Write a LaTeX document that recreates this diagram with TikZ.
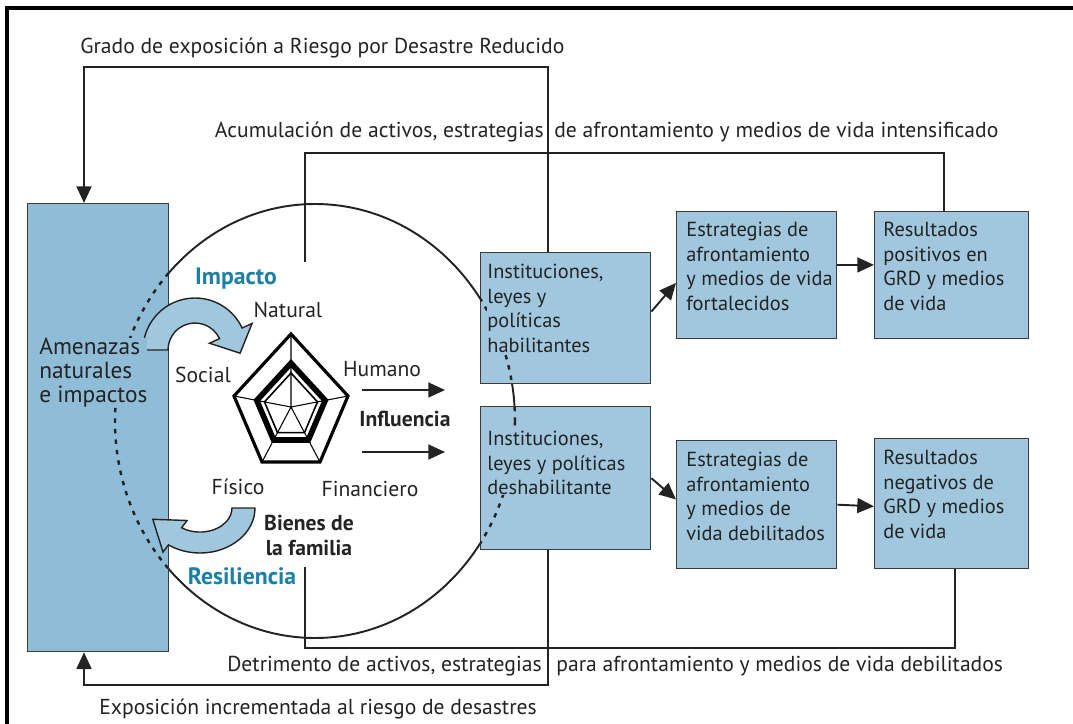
\documentclass[tikz,border=0pt]{standalone}
\usepackage{fontspec}
\setmainfont{PT Sans}
\usetikzlibrary{arrows.meta,calc}
\definecolor{boxfill}{RGB}{160,199,221}
\definecolor{leftfill}{RGB}{143,188,214}
\definecolor{boxline}{RGB}{60,60,60}
\definecolor{tealtxt}{RGB}{28,127,165}
\definecolor{ink}{RGB}{35,35,35}
\begin{document}
\begin{tikzpicture}[x=0.02cm,y=-0.02cm,
  every node/.style={font=\fontsize{12.3}{14}\selectfont, inner sep=0pt, text=ink},
  box/.style={draw=boxline, fill=boxfill, line width=0.8pt, anchor=north west, inner sep=0pt},
  txt/.style={anchor=north west, align=left, fill=boxfill, font=\fontsize{11.6}{14}\selectfont},
  lbl/.style={anchor=base},
  bold/.style={font=\fontsize{12.3}{14}\selectfont\bfseries},
  tbold/.style={font=\fontsize{13.5}{15}\selectfont\bfseries, text=tealtxt},
  conn/.style={line width=1.1pt, draw=ink},
  arr/.style={conn, -{Triangle[length=9.5pt,width=8.5pt]}},
  bendarrow/.style={draw=ink, fill=boxfill, line width=0.8pt, line join=miter},
  dashell/.style={draw=ink, line width=1.4pt, dash pattern=on 2.5pt off 3.5pt}]

\useasboundingbox (0,0) rectangle (1073,724);
\draw[line width=1.8pt] (7,724) -- (7,8) -- (1073,8);

% circle of assets
\draw[conn] (315,421) ellipse [x radius=200, y radius=217];

% boxes
\node[box, fill=leftfill, minimum width=2.82cm, minimum height=8.96cm] (A) at (27,203) {};
\node[box, minimum width=3.4cm, minimum height=2.62cm] (H) at (480,252) {};
\node[box, minimum width=3.4cm, minimum height=2.86cm] (D) at (480,406) {};
\node[box, minimum width=3.2cm, minimum height=2.54cm] (E1) at (676,211) {};
\node[box, minimum width=3.08cm, minimum height=2.54cm] (R1) at (874,211) {};
\node[box, minimum width=3.2cm, minimum height=2.56cm] (E2) at (676,440) {};
\node[box, minimum width=3.08cm, minimum height=2.6cm] (R2) at (874,438) {};

% dashed part of the circle inside boxes
\begin{scope}
\clip (A.north west) rectangle (A.south east)
      (H.north west) rectangle (H.south east)
      (D.north west) rectangle (D.south east);
\draw[dashell] (315,421) ellipse [x radius=200, y radius=217];
\end{scope}

% curved block arrows (Impacto, Resiliencia)
\draw[bendarrow] (143,350) arc[start angle=180, end angle=335, radius=52]
  -- (252.1,323.4) -- (240.1,353.2) -- (209.5,343.2) -- (219.5,338.6)
  arc[start angle=335, end angle=180, radius=27] -- cycle;
\draw[bendarrow] (255,508) arc[start angle=0, end angle=125, x radius=55, y radius=45]
  -- (163.0,552.1) -- (152.8,519.3) -- (187.1,520.5) -- (181.6,527.7)
  arc[start angle=125, end angle=0, x radius=32, y radius=24] -- cycle;

% pentagon of assets
\begin{scope}[shift={(291,407)}, line join=miter]
\draw[line width=0.6pt] (0,0) -- (0,-73) (0,0) -- (57,-11) (0,0) -- (29,55) (0,0) -- (-29,55) (0,0) -- (-57,-11);
\draw[line width=1.8pt] (0,-73) -- (57,-11) -- (29,55) -- (-29,55) -- (-57,-11) -- cycle;
\draw[line width=3.2pt] (0,-43.8) -- (34.2,-6.6) -- (17.4,33) -- (-17.4,33) -- (-34.2,-6.6) -- cycle;
\draw[line width=0.9pt] (0,-34) -- (26.5,-5.1) -- (13.5,25.6) -- (-13.5,25.6) -- (-26.5,-5.1) -- cycle;
\end{scope}

% box texts
\node[txt, fill=leftfill, font=\fontsize{13.3}{13.4}\selectfont] (At) at (39,338) {Amenazas\\naturales\\e impactos};
\node[txt] (Ht) at (487,264) {Instituciones,\\leyes y\\políticas\\habilitantes};
\node[txt] (Dt) at (487,431) {Instituciones,\\leyes y políticas\\deshabilitante};
\node[txt] (E1t) at (686,222) {Estrategias de\\afrontamiento\\y medios de vida\\fortalecidos};
\node[txt] (R1t) at (883,222) {Resultados\\positivos en\\GRD y medios\\de vida};
\node[txt] (E2t) at (686,452) {Estrategias de\\afrontamiento\\y medios de\\vida debilitados};
\node[txt] (R2t) at (883,450) {Resultados\\negativos de\\GRD y medios\\de vida};

% labels around the pentagon
\node[lbl] (nat) at (288,317) {Natural};
\node[lbl] (soc) at (203,382) {Social};
\node[lbl] (hum) at (382,376) {Humano};
\node[lbl] (fis) at (238,494) {Físico};
\node[lbl] (fin) at (370,496) {Financiero};
\node[lbl, bold] (inf) at (405,426) {Influencia};
\node[lbl, tbold] (imp) at (236,284) {Impacto};
\node[lbl, tbold] (res) at (242,584) {Resiliencia};
\node[anchor=north, align=center, bold] (bie) at (309,515) {Bienes de\\la familia};

% loop labels
\node[anchor=base west] (grado) at (80,53) {Grado de exposición a Riesgo por Desastre Reducido};
\node[anchor=base east] (acu1) at (544,137) {Acumulación de activos, estrategias};
\node[anchor=base west] (acu2) at (554,137) {de afrontamiento y medios de vida intensificado};
\node[anchor=base east] (det1) at (542,671) {Detrimento de activos, estrategias};
\node[anchor=base west] (det2) at (556,671) {para afrontamiento y medios de vida debilitados};
\node[anchor=base west] (expo) at (99,714) {Exposición incrementada al riesgo de desastres};

% feedback loops
\coordinate (g1) at (548,67);
\coordinate (g2) at (84,67);
\draw[arr] (H.north -| g1) -- (g1) -- (g2) -- (A.north -| g2);

\coordinate (a0) at (305,262);
\coordinate (a1) at (305,153);
\coordinate (a2) at (944,153);
\draw[conn] (a0) -- (a1) -- (a2) -- (R1.north -| a2);

\coordinate (d0) at (305,567);
\coordinate (d1) at (305,648);
\coordinate (d2) at (955,648);
\draw[conn] (d0) -- (d1) -- (d2) -- (R2.south -| d2);

\coordinate (e0) at (548,685);
\coordinate (e1) at (84,685);
\draw[arr] (D.south -| e0) -- (e0) -- (e1) -- (A.south -| e1);

% flows between boxes
\draw[arr] ($(H.north east)!0.45!(H.south east)$) -- ($(E1.north west)!0.56!(E1.south west)$);
\draw[arr] ($(D.north east)!0.5!(D.south east)$) -- ($(E2.north west)!0.46!(E2.south west)$);
\draw[arr] ($(E1.north east)!0.42!(E1.south east)$) -- ($(R1.north west)!0.42!(R1.south west)$);
\draw[arr] ($(E2.north east)!0.5!(E2.south east)$) -- ($(R2.north west)!0.52!(R2.south west)$);

% influence arrows
\coordinate (i1a) at (362,390); \coordinate (i1b) at (445,390);
\coordinate (i2a) at (362,452); \coordinate (i2b) at (445,452);
\draw[arr] (i1a) -- (i1b);
\draw[arr] (i2a) -- (i2b);
\end{tikzpicture}
\end{document}
